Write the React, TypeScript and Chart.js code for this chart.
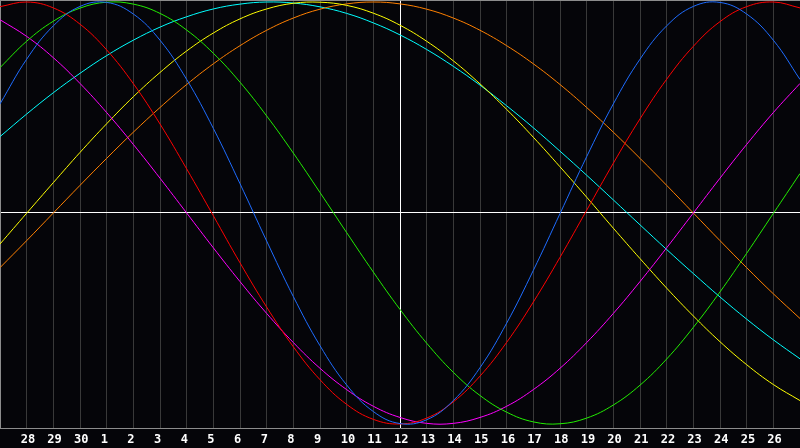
import React, { useEffect, useRef } from 'react';
import { Chart, registerables } from 'chart.js';

Chart.register(...registerables);

// Day labels across the 30-day window (first and last are not shown)
const dayLabels = ['27', '28', '29', '30', '1', '2', '3', '4', '5', '6', '7', '8', '9', '10', '11', '12', '13', '14', '15', '16', '17', '18', '19', '20', '21', '22', '23', '24', '25', '26', '27'];
const todayIndex = 15;

// Series values (range -1 .. 1), one per day
const physical = [0.517, 0.729, 0.887, 0.979, 0.998, 0.943, 0.819, 0.633, 0.401, 0.139, -0.133, -0.396, -0.629, -0.815, -0.941, -0.998, -0.98, -0.889, -0.733, -0.522, -0.272, -0.003, 0.267, 0.517, 0.729, 0.887, 0.979, 0.998, 0.943, 0.819, 0.633];
const emotional = [0.978, 1.0, 0.972, 0.895, 0.773, 0.613, 0.422, 0.209, -0.013, -0.236, -0.446, -0.634, -0.79, -0.907, -0.978, -1.0, -0.972, -0.895, -0.773, -0.613, -0.422, -0.21, 0.013, 0.236, 0.446, 0.634, 0.79, 0.907, 0.978, 1.0, 0.972];
const intellectual = [0.689, 0.814, 0.909, 0.971, 0.999, 0.99, 0.946, 0.867, 0.757, 0.62, 0.46, 0.284, 0.097, -0.093, -0.28, -0.457, -0.617, -0.755, -0.865, -0.944, -0.99, -0.999, -0.972, -0.91, -0.816, -0.692, -0.542, -0.374, -0.191, -0.002, 0.187];
const intuitive = [0.916, 0.837, 0.736, 0.614, 0.476, 0.325, 0.165, 0.0, -0.165, -0.325, -0.476, -0.614, -0.736, -0.837, -0.916, -0.969, -0.997, -0.997, -0.969, -0.916, -0.837, -0.736, -0.614, -0.476, -0.325, -0.165, 0.0, 0.165, 0.325, 0.476, 0.614];
const aesthetic = [-0.147, -0.001, 0.144, 0.287, 0.423, 0.551, 0.666, 0.768, 0.853, 0.92, 0.967, 0.994, 0.999, 0.984, 0.947, 0.89, 0.814, 0.721, 0.612, 0.491, 0.359, 0.219, 0.075, -0.072, -0.216, -0.356, -0.488, -0.61, -0.719, -0.813, -0.889];
const awareness = [-0.259, -0.131, 0.0, 0.131, 0.259, 0.383, 0.5, 0.609, 0.707, 0.793, 0.866, 0.924, 0.966, 0.991, 1.0, 0.991, 0.966, 0.924, 0.866, 0.793, 0.707, 0.609, 0.5, 0.383, 0.259, 0.131, 0.0, -0.131, -0.259, -0.383, -0.5];
const spiritual = [0.362, 0.469, 0.57, 0.662, 0.746, 0.819, 0.881, 0.93, 0.967, 0.99, 1.0, 0.995, 0.977, 0.946, 0.901, 0.844, 0.775, 0.695, 0.606, 0.508, 0.404, 0.293, 0.179, 0.062, -0.056, -0.173, -0.287, -0.398, -0.503, -0.601, -0.691];

const seriesList = [
  { label: 'Physical', data: physical, color: '#1e6cff' },
  { label: 'Emotional', data: emotional, color: '#ff0000' },
  { label: 'Intellectual', data: intellectual, color: '#22ee00' },
  { label: 'Intuitive', data: intuitive, color: '#ff00ff' },
  { label: 'Aesthetic', data: aesthetic, color: '#ffff00' },
  { label: 'Awareness', data: awareness, color: '#ff8000' },
  { label: 'Spiritual', data: spiritual, color: '#00ffff' },
];

export default function App() {
  const canvasRef = useRef<HTMLCanvasElement | null>(null);

  useEffect(() => {
    const canvas = canvasRef.current;
    if (!canvas) return;
    const chart = new Chart(canvas, {
      type: 'line',
      data: {
        labels: dayLabels,
        datasets: seriesList.map((s) => ({
          label: s.label,
          data: s.data,
          borderColor: s.color,
          backgroundColor: s.color,
          borderWidth: 1,
          pointRadius: 0,
          pointHoverRadius: 0,
          pointBorderWidth: 0,
          tension: 0.4,
          fill: false,
        })),
      },
      options: {
        animation: false,
        responsive: false,
        devicePixelRatio: 1,
        layout: { padding: { left: 0, right: 0, top: 0, bottom: -4 }, autoPadding: false },
        plugins: {
          legend: { display: false },
          tooltip: { enabled: false },
        },
        scales: {
          x: {
            type: 'category',
            offset: false,
            grid: {
              offset: false,
              drawTicks: false,
              lineWidth: 1,
              color: (ctx: any) => (ctx.index === todayIndex ? '#ffffff' : '#393939'),
            },
            border: { display: true, color: '#8c8c8c', width: 1 },
            ticks: {
              autoSkip: false,
              maxRotation: 0,
              minRotation: 0,
              align: 'start',
              labelOffset: -6,
              padding: 0,
              color: '#ffffff',
              font: { family: '"DejaVu Sans Mono", monospace', size: 12, weight: 'bold', lineHeight: '24px' },
              callback: (_v: any, i: number) =>
                i === 0 || i === dayLabels.length - 1 ? '' : dayLabels[i],
            },
          },
          x2: {
            type: 'linear',
            position: 'top',
            min: 0,
            max: 1,
            ticks: { display: false },
            grid: { display: false, drawTicks: false },
            border: { display: true, color: '#8c8c8c', width: 1 },
          },
          y: {
            type: 'linear',
            min: -1.019,
            max: 1.0095,
            ticks: { display: false },
            afterBuildTicks: (scale: any) => {
              scale.ticks = [{ value: 0 }];
            },
            grid: { color: '#ffffff', drawTicks: false, lineWidth: 1 },
            border: { display: true, color: '#8c8c8c', width: 1 },
          },
        },
      } as any,
    });
    return () => chart.destroy();
  }, []);

  return (
    <div style={{ position: 'fixed', left: 0, top: 0, width: 800, height: 448, background: '#050509' }}>
      <canvas
        ref={canvasRef}
        width={800}
        height={448}
        style={{ display: 'block', width: 800, height: 448, background: '#050509' }}
      />
    </div>
  );
}
